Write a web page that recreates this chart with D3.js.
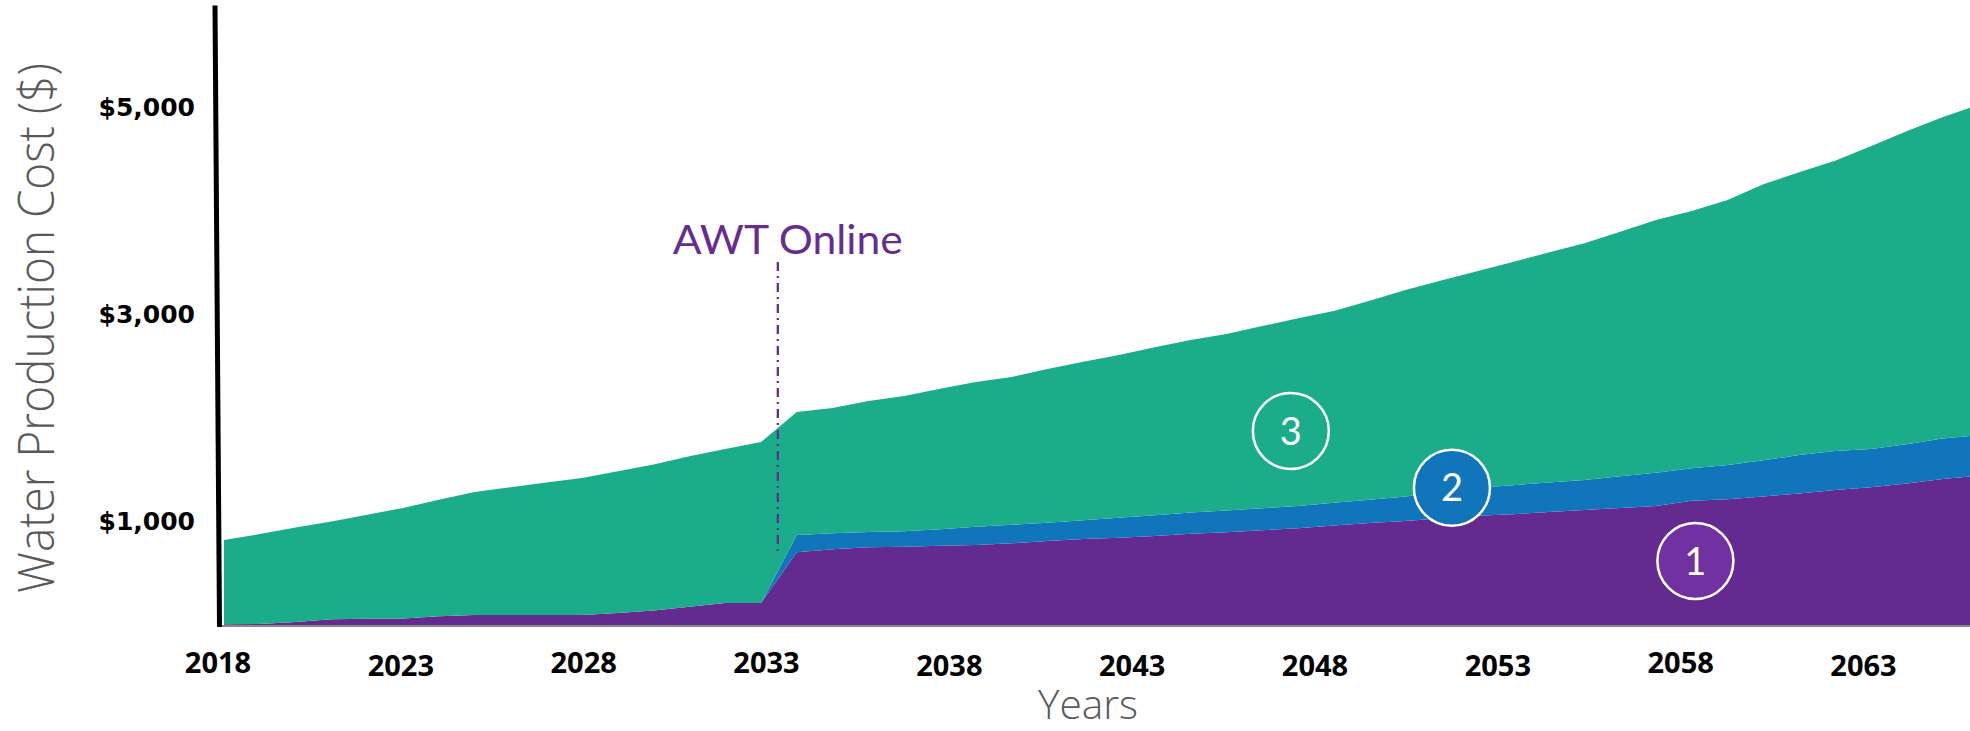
<!DOCTYPE html>
<html>
<head>
<meta charset="utf-8">
<script src="https://cdn.jsdelivr.net/npm/d3@7"></script>
<style>
  body { margin: 0; background: #fff; }
  svg { display: block; }
</style>
</head>
<body>
<div id="chart"></div>
<script>
// data
const years = [2018, 2019, 2020, 2021, 2022, 2023, 2024, 2025, 2026, 2027,
  2028, 2029, 2030, 2031, 2032, 2033, 2034, 2035, 2036, 2037,
  2038, 2039, 2040, 2041, 2042, 2043, 2044, 2045, 2046, 2047,
  2048, 2049, 2050, 2051, 2052, 2053, 2054, 2055, 2056, 2057,
  2058, 2059, 2060, 2061, 2062, 2063, 2064, 2065, 2066, 2067];

// (1) purple, bottom layer
const cost1 = [8, 10, 30, 55, 60, 62, 85, 97, 97, 97,
  97, 115, 140, 175, 212, 212, 702, 730, 750, 756,
  764, 772, 788, 811, 830, 843, 858, 880, 895, 915,
  935, 960, 985, 1003, 1030, 1055, 1070, 1090, 1110, 1130,
  1149, 1200, 1215, 1240, 1270, 1303, 1330, 1365, 1410, 1440];

// (2) blue, middle layer (starts with AWT)
const cost2 = [0, 0, 0, 0, 0, 0, 0, 0, 0, 0,
  0, 0, 0, 0, 0, 0, 167, 155, 148, 148,
  161, 177, 180, 177, 182, 193, 202, 205, 210, 213,
  214, 220, 225, 237, 250, 270, 280, 285, 290, 305,
  321, 313, 330, 350, 370, 377, 370, 380, 390, 390];

// (3) teal, top layer
const cost3 = [812, 868, 910, 945, 1005, 1068, 1125, 1187, 1233, 1278,
  1322, 1370, 1410, 1455, 1486, 1554, 1187, 1210, 1264, 1306,
  1355, 1396, 1426, 1483, 1528, 1570, 1620, 1666, 1705, 1757,
  1811, 1850, 1920, 1994, 2045, 2090, 2155, 2220, 2284, 2360,
  2439, 2483, 2557, 2665, 2730, 2800, 2920, 3020, 3100, 3190];

const xTickYears = [2018, 2023, 2028, 2033, 2038, 2043, 2048, 2053, 2058, 2063];
const xTickShift = [0, 3, 0, 0, 3, 3, 3, 3, 0, 3];
const yTickValues = [1000, 3000, 5000];

const seriesKeys = ["c1", "c2", "c3"];
const seriesLabels = ["1", "2", "3"];
const labelYears = [2059.1, 2052.3, 2047.8];
const labelValues = [618, 1325, 1873];

const awtYear = 2033.47;
const awtRange = [705, 3504];

const colors = { c1: "#632b8f", c2: "#1075bb", c3: "#1bad8a" };
const badgeFill = ["#7131a1", "#1075bb", "none"];

const W = 1970, H = 731;

const svg = d3.select("#chart").append("svg")
  .attr("width", W)
  .attr("height", H);

const x = d3.scaleLinear().domain([2018, 2067]).range([224, 224 + 49 * 35.8]);
const y = d3.scaleLinear().domain([0, 6000]).range([625, 3.4]);
// tick labels are spaced a little wider than the data points in the original
const xLab = d3.scaleLinear().domain([2018, 2063]).range([217.5, 1863]);

const table = years.map((yr, i) => ({ year: yr, c1: cost1[i], c2: cost2[i], c3: cost3[i] }));
const stacked = d3.stack().keys(seriesKeys)(table);

const area = d3.area()
  .x(d => x(d.data.year))
  .y0(d => y(d[0]))
  .y1(d => y(d[1]));

svg.append("g")
  .selectAll("path")
  .data(stacked)
  .enter()
  .append("path")
  .attr("d", area)
  .attr("fill", d => colors[d.key]);

// baseline
svg.append("line")
  .attr("x1", 220).attr("x2", W)
  .attr("y1", y(0) + 1).attr("y2", y(0) + 1)
  .attr("stroke", "#8a8a8a")
  .attr("stroke-width", 2);

// thick black y axis line (slightly tilted like the original)
svg.append("line")
  .attr("x1", 215).attr("y1", y(6000) + 2)
  .attr("x2", 219.5).attr("y2", y(0) + 2)
  .attr("stroke", "#000")
  .attr("stroke-width", 5);

// y ticks
const yAxis = d3.axisLeft(y)
  .tickValues(yTickValues)
  .tickFormat(d => "$" + d3.format(",")(d))
  .tickSize(0)
  .tickPadding(0);
const gy = svg.append("g")
  .attr("transform", "translate(195,0)")
  .call(yAxis);
gy.select(".domain").remove();
gy.selectAll("text")
  .attr("font-family", "'DejaVu Sans', Verdana, sans-serif")
  .attr("font-weight", "bold")
  .attr("font-size", 25)
  .attr("fill", "#000");

// x ticks
const xAxis = d3.axisBottom(xLab)
  .tickValues(xTickYears)
  .tickFormat(d3.format("d"))
  .tickSize(0);
const gx = svg.append("g").call(xAxis);
gx.select(".domain").remove();
gx.selectAll("text")
  .attr("dy", 0)
  .attr("y", (d, i) => 673 + xTickShift[i])
  .attr("font-family", "'Open Sans', sans-serif")
  .attr("font-weight", "bold")
  .attr("font-size", 29)
  .attr("fill", "#000");

// axis titles
svg.append("text")
  .attr("transform", "translate(54,328) rotate(-90)")
  .attr("text-anchor", "middle")
  .attr("font-family", "'Open Sans', sans-serif")
  .attr("font-weight", 300)
  .attr("font-size", 50)
  .attr("textLength", 530)
  .attr("lengthAdjust", "spacingAndGlyphs")
  .attr("fill", "#595959")
  .text("Water Production Cost ($)");

svg.append("text")
  .attr("x", 1088)
  .attr("y", 719)
  .attr("text-anchor", "middle")
  .attr("font-family", "'Open Sans', sans-serif")
  .attr("font-weight", 300)
  .attr("font-size", 40)
  .attr("textLength", 100)
  .attr("lengthAdjust", "spacingAndGlyphs")
  .attr("fill", "#595959")
  .text("Years");

// AWT online marker
svg.append("line")
  .attr("x1", x(awtYear)).attr("x2", x(awtYear))
  .attr("y1", y(awtRange[1])).attr("y2", y(awtRange[0]))
  .attr("stroke", "#662d91")
  .attr("stroke-width", 2.3)
  .attr("stroke-dasharray", "9,5,2,5");

svg.append("text")
  .attr("x", x(awtYear) + 10)
  .attr("y", 254)
  .attr("text-anchor", "middle")
  .attr("font-family", "Lato, 'Noto Sans', sans-serif")
  .attr("font-size", 40)
  .attr("textLength", 230)
  .attr("lengthAdjust", "spacingAndGlyphs")
  .attr("fill", "#662d91")
  .text("AWT Online");

// numbered circles
const badges = svg.append("g")
  .selectAll("g")
  .data(seriesLabels)
  .enter()
  .append("g")
  .attr("transform", (d, i) => "translate(" + x(labelYears[i]) + "," + y(labelValues[i]) + ")");
badges.append("circle")
  .attr("r", 38)
  .attr("fill", (d, i) => badgeFill[i])
  .attr("stroke", "#fff")
  .attr("stroke-width", 2.5);
badges.append("text")
  .attr("text-anchor", "middle")
  .attr("dy", "0.36em")
  .attr("font-family", "Lato, 'Noto Sans', sans-serif")
  .attr("font-size", 38)
  .attr("fill", "#fff")
  .text(d => d);
</script>
</body>
</html>
